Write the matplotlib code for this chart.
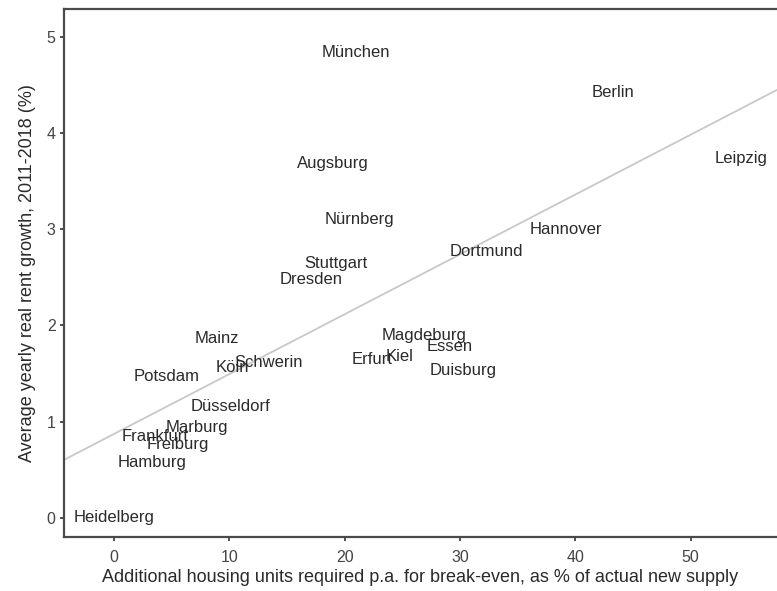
import numpy as np
import matplotlib
matplotlib.use("Agg")
import matplotlib.pyplot as plt

plt.rcParams["font.family"] = ["Liberation Sans", "DejaVu Sans"]

cities = ["München", "Berlin", "Leipzig", "Augsburg", "Nürnberg", "Hannover",
          "Stuttgart", "Dresden", "Dortmund", "Mainz", "Magdeburg", "Essen",
          "Kiel", "Erfurt", "Schwerin", "Köln", "Duisburg", "Potsdam",
          "Düsseldorf", "Marburg", "Frankfurt", "Freiburg", "Hamburg", "Heidelberg"]
supply_gap = [21.0, 43.3, 54.4, 19.0, 21.3, 39.2,
              19.2, 17.1, 32.3, 8.9, 26.9, 29.1,
              24.8, 22.4, 13.4, 10.3, 30.3, 4.6,
              10.1, 7.2, 3.6, 5.5, 3.3, 0.0]
rent_growth = [4.84, 4.42, 3.74, 3.68, 3.10, 3.00,
               2.64, 2.48, 2.77, 1.86, 1.90, 1.78,
               1.68, 1.65, 1.61, 1.56, 1.53, 1.47,
               1.16, 0.94, 0.85, 0.76, 0.57, 0.00]

x = np.array(supply_gap)
y = np.array(rent_growth)
slope, intercept = np.polyfit(x, y, 1)

fig = plt.figure(figsize=(7.77, 5.91), dpi=100)
ax = fig.add_axes([64 / 777, 54 / 591, 1 - 64 / 777, (537 - 9) / 591])

xlim = (-4.34, 57.5)
ax.set_xlim(*xlim)
ax.set_ylim(-0.2, 5.29)

# least-squares trend line across the full x range
xx = np.array(xlim)
ax.plot(xx, intercept + slope * xx, color="#c8c8c8", lw=1.3, zorder=1)

for name, xi, yi in zip(cities, x, y):
    ax.text(xi, yi, name, ha="center", va="center", fontsize=12, color="#2a2a2a", zorder=2)

for side in ["left", "bottom", "top"]:
    ax.spines[side].set_color("#4a4a4a")
    ax.spines[side].set_linewidth(1.6)
ax.spines["right"].set_visible(False)

ax.set_xticks([0, 10, 20, 30, 40, 50])
ax.set_yticks([0, 1, 2, 3, 4, 5])
ax.tick_params(axis="both", direction="out", length=3, width=1.2, color="#333333",
               labelsize=11.5, labelcolor="#444444", pad=3)
ax.tick_params(axis="x", pad=6)
ax.set_xlabel("Additional housing units required p.a. for break-even, as % of actual new supply",
              fontsize=13, color="#2a2a2a", labelpad=3)
ax.set_ylabel("Average yearly real rent growth, 2011-2018 (%)", fontsize=13, color="#2a2a2a",
              labelpad=8)

fig.savefig("out.png", dpi=100)
